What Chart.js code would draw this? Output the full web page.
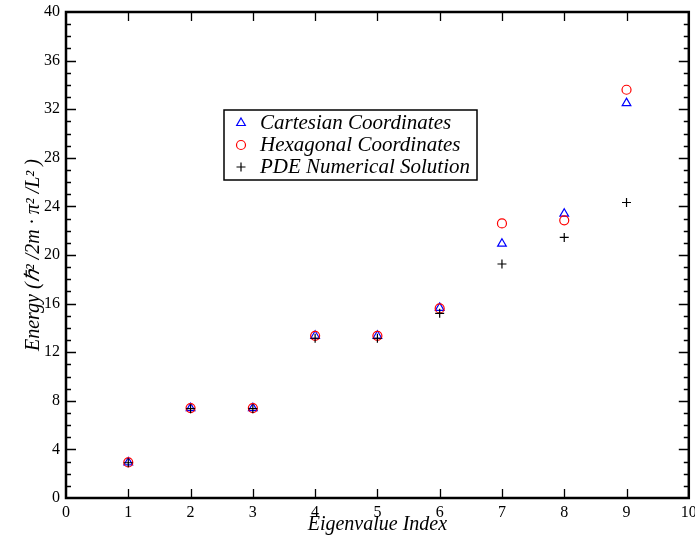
<!DOCTYPE html>
<html>
<head>
<meta charset="utf-8">
<script src="https://cdn.jsdelivr.net/npm/chart.js@4"></script>
<style>
  html, body { margin: 0; padding: 0; background: #fff; }
  #wrap { width: 695px; height: 539px; }
</style>
</head>
<body>
<div id="wrap"><canvas id="grafico"></canvas></div>
<script>
const indices = [1, 2, 3, 4, 5, 6, 7, 8, 9];
const cartesian = [2.93, 7.4, 7.4, 13.35, 13.35, 15.65, 20.93, 23.4, 32.5];
const hexagonal = [2.93, 7.4, 7.4, 13.35, 13.35, 15.6, 22.6, 22.85, 33.6];
const pdeSolution = [2.9, 7.35, 7.35, 13.15, 13.15, 15.2, 19.26, 21.45, 24.32];
const seriesNames = ['Cartesian Coordinates', 'Hexagonal Coordinates', 'PDE Numerical Solution'];

const serif = '"Liberation Serif", "Times New Roman", serif';

function pts(vals) {
  return indices.map((x, i) => ({ x: x, y: vals[i] }));
}

const styles = [
  { pointStyle: 'triangle', radius: 5, color: '#0000ff' },
  { pointStyle: 'circle', radius: 4.5, color: '#ff0000' },
  { pointStyle: 'cross', radius: 4.5, color: '#000000' }
];

// frame, inward ticks and legend box
const frame = {
  id: 'frame',
  afterDraw(chart) {
    const c = chart.ctx, a = chart.chartArea;
    const xs = chart.scales.x, ys = chart.scales.y;
    c.save();
    c.strokeStyle = '#000';
    c.lineWidth = 1.3;
    c.beginPath();
    for (let v = 1; v < 10; v++) {
      const px = Math.round(xs.getPixelForValue(v)) + 0.5;
      c.moveTo(px, a.bottom); c.lineTo(px, a.bottom - 9);
      c.moveTo(px, a.top); c.lineTo(px, a.top + 9);
    }
    for (let v = 1; v < 40; v++) {
      const py = Math.round(ys.getPixelForValue(v)) + 0.5;
      const len = v % 4 === 0 ? 10 : 5;
      c.moveTo(a.left, py); c.lineTo(a.left + len, py);
      c.moveTo(a.right, py); c.lineTo(a.right - len, py);
    }
    c.stroke();
    c.lineWidth = 2.5;
    c.strokeRect(a.left, a.top, a.right - a.left, a.bottom - a.top);

    // legend
    const bx = 224, by = 110, bw = 253, bh = 70;
    c.lineWidth = 1.5;
    c.strokeRect(bx, by, bw, bh);
    c.font = 'italic 21px ' + serif;
    c.textBaseline = 'middle';
    seriesNames.forEach((name, i) => {
      const yy = by + 13 + i * 22;
      const s = styles[i];
      c.strokeStyle = s.color;
      c.fillStyle = 'rgba(0,0,0,0)';
      c.lineWidth = 1.2;
      Chart.helpers.drawPoint(c, { pointStyle: s.pointStyle, radius: s.radius, rotation: 0, borderWidth: 1.2 }, 241, yy);
      c.fillStyle = '#000';
      c.fillText(name, 260, yy);
    });
    c.restore();
  }
};

new Chart(document.getElementById('grafico'), {
  type: 'scatter',
  data: {
    datasets: [cartesian, hexagonal, pdeSolution].map((vals, i) => ({
      label: seriesNames[i],
      data: pts(vals),
      pointStyle: styles[i].pointStyle,
      pointRadius: styles[i].radius,
      pointBorderColor: styles[i].color,
      pointBackgroundColor: 'rgba(0,0,0,0)',
      pointBorderWidth: 1.2
    })).reverse()
  },
  plugins: [frame],
  options: {
    responsive: true,
    maintainAspectRatio: false,
    animation: false,
    layout: { padding: { top: 12, right: 6, left: 22, bottom: 0 } },
    plugins: {
      legend: { display: false },
      tooltip: { enabled: false }
    },
    scales: {
      x: {
        type: 'linear', min: 0, max: 10,
        grid: { display: false, drawTicks: false },
        border: { display: false },
        ticks: { stepSize: 1, color: '#000', padding: 5, font: { family: serif, size: 16 } },
        title: { display: true, text: 'Eigenvalue Index', color: '#000', padding: { top: 0, bottom: 2 },
                 font: { family: serif, size: 20, style: 'italic' } },
        afterFit(scale) { scale.height = 41; scale.paddingLeft = 0; scale.paddingRight = 0; }
      },
      y: {
        type: 'linear', min: 0, max: 40,
        grid: { display: false, drawTicks: false },
        border: { display: false },
        ticks: { stepSize: 4, color: '#000', padding: 6, font: { family: serif, size: 16 } },
        title: { display: true, text: 'Energy (ℏ² /2m · π² /L² )', color: '#000', padding: { top: 0, bottom: 0 },
                 font: { family: serif, size: 20, style: 'italic' } },
        afterFit(scale) { scale.width = 44; scale.paddingTop = 0; scale.paddingBottom = 0; }
      }
    }
  }
});
</script>
</body>
</html>
